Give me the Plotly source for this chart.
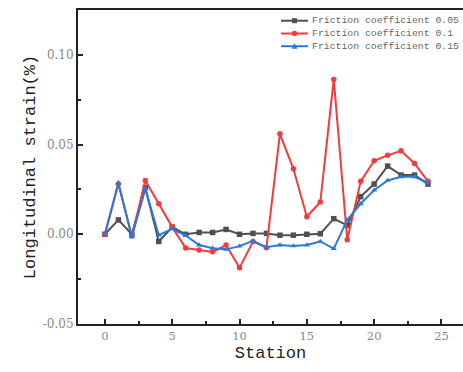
import plotly.graph_objects as go

stations = list(range(25))
f005 = [0.000, 0.008, 0.000, 0.026, -0.004, 0.004, 0.000, 0.001, 0.001, 0.0027, 0.000, 0.0005,
        0.0005, -0.0005, -0.0005, 0.000, 0.0003, 0.0087, 0.005, 0.021, 0.028, 0.038, 0.033, 0.033, 0.028]
f010 = [0.000, 0.028, -0.001, 0.030, 0.017, 0.004, -0.0077, -0.0087, -0.0098, -0.006, -0.0187, -0.004,
        -0.0075, 0.056, 0.0365, 0.0098, 0.018, 0.0863, -0.003, 0.0295, 0.041, 0.044, 0.0465, 0.0395, 0.0295]
f015 = [0.000, 0.0287, -0.0015, 0.0254, -0.0005, 0.003, -0.0007, -0.006, -0.0078, -0.0084, -0.0066, -0.0037,
        -0.0072, -0.006, -0.0065, -0.006, -0.004, -0.008, 0.008, 0.017, 0.0246, 0.030, 0.032, 0.032, 0.0287]
names = ["Friction coefficient 0.05", "Friction coefficient 0.1", "Friction coefficient 0.15"]
colors = ["#505050", "#f23b3f", "#2a78de"]
symbols = ["square", "circle", "triangle-up"]

FONT = "Liberation Mono"
TICKFONT = "DejaVu Serif"
W, H = 463, 372
ML, MR, MT, MB = 78, 0, 10, 48
PW, PH = W - ML - MR, H - MT - MB

fig = go.Figure()
for ys, n, c, s in zip([f005, f010, f015], names, colors, symbols):
    fig.add_trace(go.Scatter(x=stations, y=ys, name=n, mode="lines+markers",
                             line=dict(color=c, width=2),
                             marker=dict(symbol=s, size=5.5, color=c)))

# custom compact legend (paper coordinates from pixel layout)
def px_x(p):
    return (p - ML) / PW

def px_y(p):
    return 1 - (p - MT) / PH

shapes = []
annotations = []
row_y = [20.7, 33.5, 46.2]
for i, (n, c, s) in enumerate(zip(names, colors, symbols)):
    yy = px_y(row_y[i])
    shapes.append(dict(type="line", xref="paper", yref="paper", x0=px_x(281), x1=px_x(308),
                       y0=yy, y1=yy, line=dict(color=c, width=2)))
    cx = 294.5
    cy = row_y[i]
    if s == "square":
        shapes.append(dict(type="rect", xref="paper", yref="paper", x0=px_x(cx - 2.5), x1=px_x(cx + 2.5),
                           y0=px_y(cy + 2.5), y1=px_y(cy - 2.5), fillcolor=c, line=dict(width=0)))
    elif s == "circle":
        shapes.append(dict(type="circle", xref="paper", yref="paper", x0=px_x(cx - 2.7), x1=px_x(cx + 2.7),
                           y0=px_y(cy + 2.7), y1=px_y(cy - 2.7), fillcolor=c, line=dict(width=0)))
    else:
        path = "M {} {} L {} {} L {} {} Z".format(px_x(cx), px_y(cy - 3), px_x(cx - 3), px_y(cy + 2.5),
                                                  px_x(cx + 3), px_y(cy + 2.5))
        shapes.append(dict(type="path", xref="paper", yref="paper", path=path, fillcolor=c, line=dict(width=0)))
    annotations.append(dict(x=px_x(310), y=yy, xref="paper", yref="paper", xanchor="left", yanchor="middle",
                            text=n, showarrow=False, font=dict(family=FONT, size=9.8, color="#666")))

fig.update_layout(
    width=W, height=H,
    margin=dict(l=ML, r=MR, t=MT, b=MB),
    plot_bgcolor="white", paper_bgcolor="white",
    font=dict(family=FONT, color="#222"),
    showlegend=False,
    shapes=shapes, annotations=annotations,
    xaxis=dict(range=[-2, 26.6], tickvals=[0, 5, 10, 15, 20, 25],
               showgrid=False, zeroline=False, showline=True, linecolor="#222", linewidth=2,
               mirror=True, ticks="inside", ticklen=5, tickwidth=1.5, tickcolor="#222",
               minor=dict(dtick=2.5, ticks="inside", ticklen=3, tickcolor="#222", showgrid=False),
               tickfont=dict(family=TICKFONT, size=11.5, color="#888"),
               title=dict(text="Station", font=dict(family=FONT, size=17, color="#222"), standoff=4)),
    yaxis=dict(range=[-0.05, 0.125], tickvals=[-0.05, 0.0, 0.05, 0.10],
               ticktext=["-0.05", "0.00", "0.05", "0.10"],
               showgrid=False, zeroline=False, showline=True, linecolor="#222", linewidth=2,
               mirror=False, ticks="inside", ticklen=5, tickwidth=1.5, tickcolor="#222",
               minor=dict(dtick=0.025, ticks="inside", ticklen=3, tickcolor="#222", showgrid=False),
               tickfont=dict(family=TICKFONT, size=12, color="#888"),
               title=dict(text="Longitudinal strain(%)", font=dict(family=FONT, size=17, color="#222"), standoff=3)),
)
fig.write_html("out.html")
